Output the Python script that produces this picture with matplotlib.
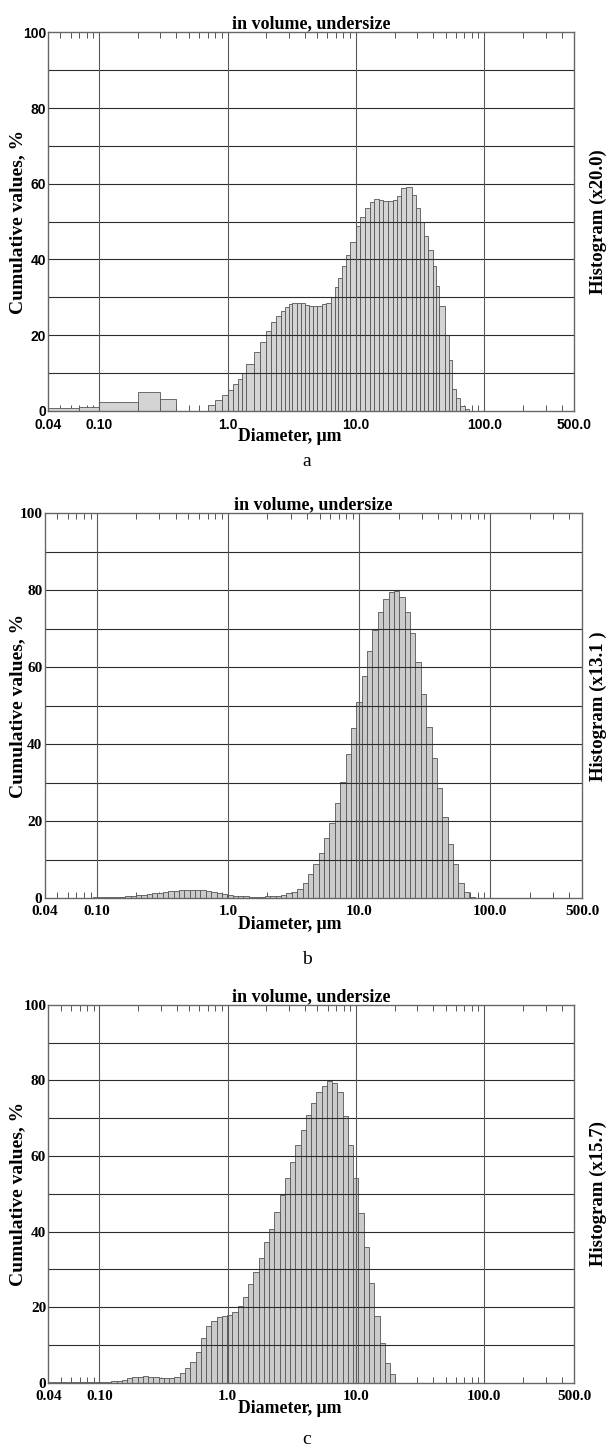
import matplotlib.pyplot as plt
import numpy as np

# ---- panel a: size classes (um) and histogram heights ----
a_edges = [0.04, 0.07, 0.1, 0.2, 0.3, 0.4, 0.7,
           0.8, 0.9, 1.0, 1.1, 1.2, 1.3, 1.4, 1.6, 1.8, 2.0,
           2.2, 2.4, 2.6, 2.8, 3.0, 3.2, 3.5, 3.75, 4.0, 4.3,
           4.6, 5.0, 5.4, 5.9, 6.4, 6.9, 7.3, 7.8, 8.4, 9.0,
           10.0, 10.8, 11.7, 12.8, 13.9, 15.0, 16.4, 17.8, 19.4, 20.8,
           22.3, 24.6, 27.4, 29.4, 31.6, 34.1, 36.6, 39.6, 42.0, 44.6,
           49.4, 52.7, 56.0, 60.1, 64.6, 70.2, 76.3]
a_vals = [0.8, 1.0, 2.2, 4.9, 3.0, 0.0,
          1.4, 2.8, 4.1, 5.5, 7.0, 8.4, 9.9, 12.3, 15.5, 18.2,
          21.0, 23.4, 25.0, 26.3, 27.5, 28.2, 28.6, 28.6, 28.4, 28.0,
          27.7, 27.6, 27.8, 28.2, 28.6, 30.1, 32.6, 35.0, 38.2, 41.1,
          44.7, 48.8, 51.3, 53.7, 55.2, 55.9, 55.7, 55.5, 55.4, 55.7,
          56.7, 59.0, 59.2, 57.0, 53.5, 50.0, 46.2, 42.5, 38.2, 33.0,
          27.7, 20.0, 13.4, 5.7, 3.5, 1.2, 0.5]

# ---- panels b and c: 100 log classes from 0.04 to 500 um ----
bc_edges = np.geomspace(0.04, 500, 101)
b_vals = [0.1, 0.1, 0.1, 0.1, 0.15, 0.15, 0.2, 0.2, 0.2, 0.25,
          0.3, 0.3, 0.35, 0.4, 0.45, 0.55, 0.65, 0.8, 0.95, 1.1,
          1.3, 1.5, 1.7, 1.85, 2.0, 2.1, 2.2, 2.2, 2.2, 2.1,
          1.9, 1.7, 1.5, 1.2, 0.9, 0.7, 0.55, 0.5, 0.45, 0.45,
          0.45, 0.5, 0.55, 0.7, 0.95, 1.3, 1.7, 2.3, 3.9, 6.3,
          8.9, 11.7, 15.6, 19.5, 24.8, 30.3, 37.5, 44.2, 51.1, 57.8,
          64.3, 69.7, 74.4, 77.7, 79.6, 79.8, 78.2, 74.4, 68.8, 61.4,
          53.0, 44.6, 36.4, 28.6, 21.0, 14.0, 8.9, 4.1, 1.6, 0.4,
          0, 0, 0, 0, 0, 0, 0, 0, 0, 0,
          0, 0, 0, 0, 0, 0, 0, 0, 0, 0]
c_vals = [0.05, 0.05, 0.05, 0.05, 0.1, 0.1, 0.1, 0.1, 0.1, 0.1,
          0.15, 0.25, 0.4, 0.55, 0.8, 1.1, 1.35, 1.55, 1.65, 1.6,
          1.45, 1.3, 1.15, 1.15, 1.6, 2.6, 3.75, 5.5, 8.0, 11.7,
          15.0, 16.3, 17.4, 17.6, 17.8, 18.8, 20.3, 22.7, 26.0, 29.2,
          33.1, 37.2, 40.8, 45.1, 49.6, 54.2, 58.5, 62.8, 67.0, 70.8,
          74.1, 77.0, 78.5, 79.9, 79.2, 77.0, 70.7, 62.9, 54.1, 44.8,
          35.8, 26.5, 17.6, 10.5, 5.2, 2.2, 0, 0, 0, 0,
          0, 0, 0, 0, 0, 0, 0, 0, 0, 0,
          0, 0, 0, 0, 0, 0, 0, 0, 0, 0,
          0, 0, 0, 0, 0, 0, 0, 0, 0, 0]

x_ticks = [0.04, 0.1, 1, 10, 100, 500]
x_labels = ['0.04', '0.10', '1.0', '10.0', '100.0', '500.0']
y_ticks = [0, 20, 40, 60, 80, 100]
minor = [m * 10.0 ** e for e in range(-2, 3) for m in range(2, 10)]
minor = [v for v in minor if 0.04 < v < 500]

SERIF = 'Liberation Serif'
SANS = 'Liberation Sans'
W, H = 614, 1452

fig = plt.figure(figsize=(6.14, 14.52), dpi=100)


def panel(rect, edges, vals, scale, letter, letter_y, tickfont, ticksize, face):
    ax = fig.add_axes(rect)
    edges = np.asarray(edges)
    ax.bar(edges[:-1], vals, width=np.diff(edges), align='edge',
           color=face, edgecolor='#555555', linewidth=0.6, zorder=2)
    ax.set_xscale('log')
    ax.set_xlim(0.04, 500)
    ax.set_ylim(0, 100)
    for y in range(10, 100, 10):
        ax.axhline(y, color='#2b2b2b', lw=0.8, zorder=3)
    for x in [0.1, 1, 10, 100]:
        ax.axvline(x, color='#5a5a5a', lw=0.8, zorder=3)
    ax.set_xticks(x_ticks)
    ax.set_xticklabels(x_labels, family=tickfont, fontweight='bold', fontsize=ticksize)
    ax.set_xticks(minor, minor=True)
    ax.set_xticklabels([], minor=True)
    ax.set_yticks(y_ticks)
    ax.set_yticklabels([str(v) for v in y_ticks], family=tickfont,
                       fontweight='bold', fontsize=ticksize)
    ax.tick_params(axis='x', which='major', length=0, pad=5)
    ax.tick_params(axis='x', which='minor', direction='in', length=4,
                   top=True, bottom=True, color='#555555', width=0.7)
    ax.tick_params(axis='y', length=0, pad=1.5)
    for s in ax.spines.values():
        s.set_color('#666666')
        s.set_linewidth(1.0)
        s.set_zorder(4)
    ax.set_title('in volume, undersize', family=SERIF, fontweight='bold',
                 fontsize=13, pad=3)

    # axis texts placed in figure pixels
    left = rect[0] * W
    width = rect[2] * W
    height = rect[3] * H
    ax.text((18 - left) / width, 0.5, 'Cumulative values, %', transform=ax.transAxes,
            rotation=90, ha='center', va='center', family=SERIF,
            fontweight='bold', fontsize=14)
    ax.text((290 - left) / width, -26 / height, 'Diameter, \u03bcm', transform=ax.transAxes,
            ha='center', va='center', family=SERIF, fontweight='bold', fontsize=12.8)
    ax.text((598 - left) / width, 0.5, 'Histogram (%s)' % scale, transform=ax.transAxes,
            rotation=90, ha='center', va='center', family=SERIF,
            fontweight='bold', fontsize=13.5)
    fig.text(0.5, letter_y, letter, ha='center', va='center',
             family=SERIF, fontsize=14)
    return ax


panel([0.0782, 0.7171, 0.8567, 0.2606], a_edges, a_vals, 'x20.0', 'a',
      1 - 462 / H, SANS, 10, '#d4d4d4')
panel([0.0725, 0.3813, 0.8754, 0.2652], bc_edges, b_vals, 'x13.1 ', 'b',
      1 - 960 / H, SERIF, 11, '#cbcbcb')
panel([0.0787, 0.0478, 0.8562, 0.2601], bc_edges, c_vals, 'x15.7', 'c',
      1 - 1440 / H, SERIF, 11, '#cbcbcb')

fig.savefig('out.png', dpi=100)
